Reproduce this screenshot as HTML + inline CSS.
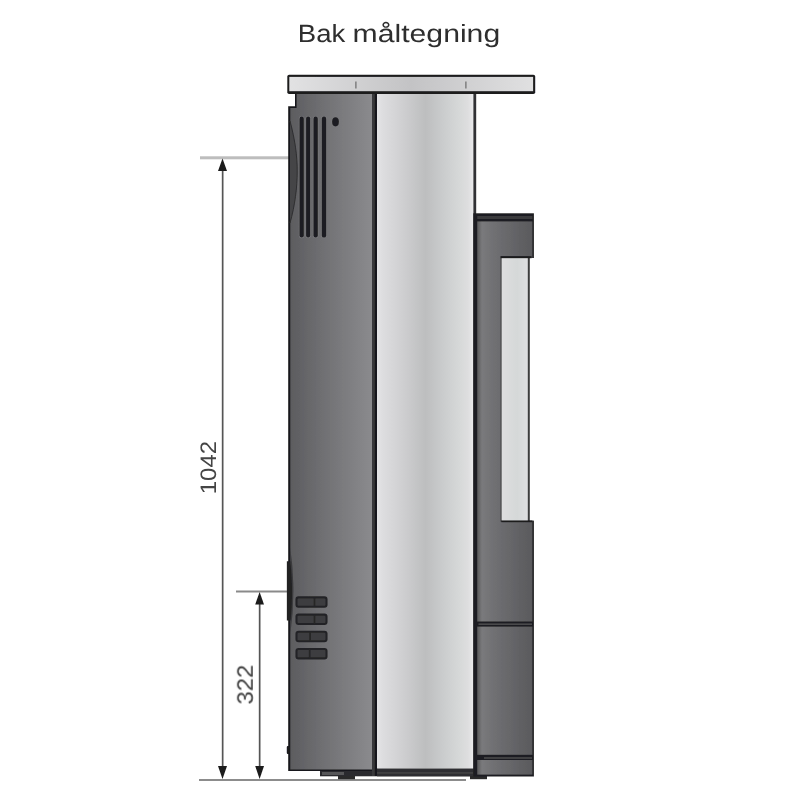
<!DOCTYPE html>
<html lang="no">
<head>
<meta charset="utf-8">
<title>Bak måltegning</title>
<style>
  html, body { margin: 0; padding: 0; background: #ffffff; }
  body { width: 800px; height: 800px; overflow: hidden; position: relative; font-family: "Liberation Sans", sans-serif; }
  svg { position: absolute; left: 0; top: 0; display: block; }
  .title { font-family: "Liberation Sans", sans-serif; font-size: 25px; fill: #2e2e2e; }
  .dim { font-family: "Liberation Sans", sans-serif; font-size: 22.4px; fill: #444444; }
</style>
</head>
<body>
<svg width="800" height="800" viewBox="0 0 800 800" text-rendering="geometricPrecision">
  <defs>
    <filter id="fText" x="-20%" y="-20%" width="140%" height="140%"><feOffset dx="0" dy="0"/></filter>
    <filter id="fSoft" filterUnits="userSpaceOnUse" x="0" y="0" width="800" height="800"><feGaussianBlur stdDeviation="0.45"/></filter>
    <linearGradient id="gBody" gradientUnits="userSpaceOnUse" x1="290" x2="373" y1="0" y2="0">
      <stop offset="0" stop-color="#5c5c5f"/>
      <stop offset="0.3" stop-color="#6b6b6e"/>
      <stop offset="0.62" stop-color="#7a7a7d"/>
      <stop offset="1" stop-color="#8b8b8e"/>
    </linearGradient>
    <linearGradient id="gCyl" gradientUnits="userSpaceOnUse" x1="377" x2="474" y1="0" y2="0">
      <stop offset="0" stop-color="#e4e4e6"/>
      <stop offset="0.06" stop-color="#dddddf"/>
      <stop offset="0.25" stop-color="#d0d0d2"/>
      <stop offset="0.5" stop-color="#bdbebf"/>
      <stop offset="0.68" stop-color="#cacccd"/>
      <stop offset="0.86" stop-color="#d7d9d9"/>
      <stop offset="0.94" stop-color="#dededf"/>
      <stop offset="1" stop-color="#ececee"/>
    </linearGradient>
    <linearGradient id="gPlate" gradientUnits="userSpaceOnUse" x1="289" x2="533" y1="0" y2="0">
      <stop offset="0" stop-color="#e2e2e3"/>
      <stop offset="0.5" stop-color="#c3c3c5"/>
      <stop offset="1" stop-color="#e0e0e1"/>
    </linearGradient>
    <linearGradient id="gRight" gradientUnits="userSpaceOnUse" x1="477" x2="532" y1="0" y2="0">
      <stop offset="0" stop-color="#58585a"/>
      <stop offset="0.09" stop-color="#7a7a7c"/>
      <stop offset="0.3" stop-color="#707073"/>
      <stop offset="1" stop-color="#5a5a5d"/>
    </linearGradient>
    <linearGradient id="gGlass" gradientUnits="userSpaceOnUse" x1="501" x2="528" y1="0" y2="0">
      <stop offset="0" stop-color="#dededf"/>
      <stop offset="0.6" stop-color="#d5d8d8"/>
      <stop offset="1" stop-color="#dfdfe1"/>
    </linearGradient>
  </defs>

  <g filter="url(#fSoft)">
  <!-- title -->
  <g filter="url(#fText)"><text class="title" y="42"><tspan x="297.8" textLength="47.5" lengthAdjust="spacingAndGlyphs">Bak</tspan> <tspan x="352.6" textLength="147.6" lengthAdjust="spacingAndGlyphs">måltegning</tspan></text></g>

  <!-- dimension extension lines -->
  <rect x="200" y="156.3" width="89" height="3" fill="#bdbdbd"/>
  <rect x="236" y="590.5" width="53" height="2" fill="#8a8a8a"/>
  <rect x="199" y="779" width="267" height="2" fill="#8c8c8c"/>

  <!-- dimension lines -->
  <rect x="221.8" y="165" width="1.7" height="608" fill="#555"/>
  <rect x="258.8" y="598" width="1.7" height="175" fill="#555"/>
  <polygon points="222.5,158.5 227,171 218,171" fill="#1a1a1a"/>
  <polygon points="222.5,779 227,766 218,766" fill="#1a1a1a"/>
  <polygon points="259.6,592 264,604.5 255.2,604.5" fill="#1a1a1a"/>
  <polygon points="259.6,779 264,766 255.2,766" fill="#1a1a1a"/>

  <g filter="url(#fText)">
    <text class="dim" transform="translate(215.5,494.2) rotate(-90)" textLength="53.2" lengthAdjust="spacingAndGlyphs">1042</text>
    <text class="dim" transform="translate(252.8,704.5) rotate(-90)" textLength="39.8" lengthAdjust="spacingAndGlyphs">322</text>
  </g>

  <!-- base / feet -->
  <rect x="320" y="770" width="157" height="6.3" fill="#2c2c2e"/>
  <rect x="322" y="772" width="22" height="3" fill="#565658"/>
  <rect x="338" y="775.5" width="17" height="3.7" fill="#2a2a2c"/>
  <rect x="470" y="775.5" width="17" height="3.7" fill="#2a2a2c"/>

  <!-- left body -->
  <polygon points="295,92 374,92 374,771 288.2,771 288.2,106.3 295,106.3" fill="#18181a"/>
  <polygon points="296.6,94 373,94 373,769.4 290.3,769.4 290.3,108 296.6,108" fill="url(#gBody)"/>
  <!-- left curved profile -->
  <path d="M290 121 C 295 140 297.2 155 297.2 171 C 297.2 188 295 205 290 223 Z" fill="#454547"/>
  <path d="M290 121 C 295 140 297.2 155 297.2 171 C 297.2 188 295 205 290 223" fill="none" stroke="#2e2e30" stroke-width="1"/>
  <!-- handle -->
  <path d="M290.3 548 Q 296.5 592 290.3 634 Z" fill="#3a3a3c"/>
  <path d="M286.9 561.3 L290.3 561.3 Q 293.6 592 290.6 620.5 L286.9 620.5 Z" fill="#222224"/>
  <rect x="286.8" y="746" width="3" height="8" rx="1" fill="#1c1c1e"/>

  <!-- vent slots -->
  <g fill="#1f1f21" stroke="#7d7d80" stroke-width="1.2" paint-order="stroke">
    <rect x="299.5" y="116.6" width="4.3" height="121" rx="2.1"/>
    <rect x="306.1" y="116.6" width="4.1" height="121" rx="2"/>
    <rect x="313.5" y="116.6" width="4.3" height="121" rx="2.1"/>
    <rect x="321.8" y="116.6" width="4.4" height="121" rx="2.2"/>
    <ellipse cx="335.5" cy="121.8" rx="3.4" ry="4.6"/>
  </g>
  <!-- small vents -->
  <g fill="#3e3e40" stroke="#232325" stroke-width="2.1">
    <rect x="296.5" y="597.4" width="30" height="9.4" rx="2"/>
    <rect x="296.5" y="614.6" width="30" height="9.4" rx="2"/>
    <rect x="296.5" y="631.8" width="30" height="9.4" rx="2"/>
    <rect x="296.5" y="649" width="30" height="9.4" rx="2"/>
  </g>
  <g fill="#262628">
    <rect x="313.6" y="597.4" width="1.8" height="9.4"/>
    <rect x="313.6" y="614.6" width="1.8" height="9.4"/>
    <rect x="309.2" y="631.8" width="1.8" height="9.4"/>
    <rect x="308.8" y="649" width="1.8" height="9.4"/>
  </g>

  <!-- cylinder -->
  <rect x="372" y="93" width="3.2" height="683" fill="#38383a"/>
  <rect x="374.8" y="93" width="2.4" height="683" fill="#18181a"/>
  <rect x="377" y="93" width="97" height="675.5" fill="url(#gCyl)"/>
  <rect x="473.4" y="93" width="2.8" height="683" fill="#323234"/>
  <rect x="377" y="768.5" width="98" height="7.8" fill="#2e2e30"/>
  <rect x="377" y="772.3" width="96" height="1.2" fill="#4a4a4c"/>

  <!-- right box -->
  <rect x="473.3" y="213.3" width="60.6" height="563.2" fill="#1e1e20"/>
  <rect x="477.2" y="216" width="55.2" height="3" fill="#3a3a3c"/>
  <rect x="477.2" y="221.4" width="55.2" height="400.1" fill="url(#gRight)"/>
  <rect x="477.2" y="626.6" width="55.2" height="128.2" fill="url(#gRight)"/>
  <rect x="477.2" y="760" width="55.2" height="14.6" fill="url(#gRight)"/>
  <rect x="478.5" y="623.4" width="53.5" height="1.6" fill="#4a4a4c"/>
  <rect x="484" y="757.2" width="48" height="1.6" fill="#4a4a4c"/>
  <!-- glass cut-out -->
  <rect x="529.6" y="258" width="5" height="262.6" fill="#ffffff"/>
  <rect x="500.6" y="256.2" width="29" height="265.6" fill="#3c3c3e"/>
  <rect x="500.6" y="256.2" width="31" height="2" fill="#1c1c1e"/>
  <rect x="501.4" y="520.4" width="31" height="1.8" fill="#1c1c1e"/>
  <rect x="501.6" y="258.2" width="26.2" height="262.2" fill="url(#gGlass)"/>

  <!-- top plate -->
  <rect x="287.3" y="74.7" width="247.9" height="19.4" rx="1.8" fill="#1c1c1e"/>
  <rect x="289.3" y="76.9" width="243.8" height="14.3" fill="url(#gPlate)"/>
  <rect x="355.3" y="81.5" width="1.2" height="7" fill="#6a6a6a"/>
  <rect x="465.3" y="81.5" width="1.2" height="7" fill="#6a6a6a"/>
  </g>
</svg>
</body>
</html>
